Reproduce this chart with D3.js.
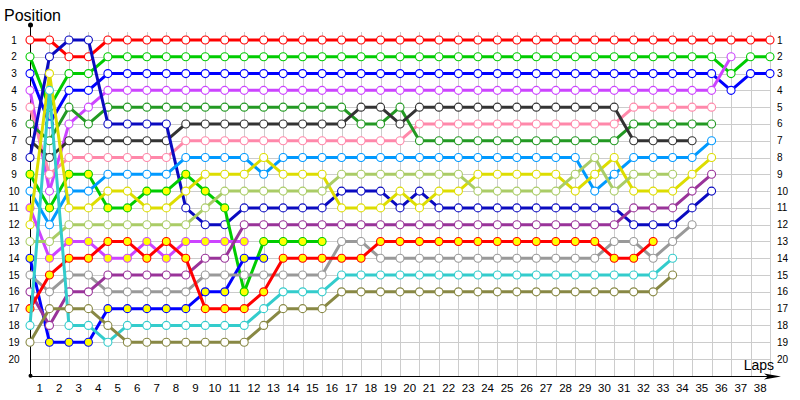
<!DOCTYPE html>
<html><head><meta charset="utf-8">
<script src="https://cdn.jsdelivr.net/npm/d3@7"></script>
<style>body{margin:0;background:#fff}svg{display:block}</style>
</head><body><svg id="c" width="800" height="400"></svg>
<script>
// ---- data (position per lap, index = lap number starting at lap 0 = grid) ----
const lapLabels = d3.range(1, 39);
const posLabels = d3.range(1, 21);

const pRed      = [1,1,2,2,1,1,1,1,1,1,1,1,1,1,1,1,1,1,1,1,1,1,1,1,1,1,1,1,1,1,1,1,1,1,1,1,1,1,1];
const pGreen    = [2,5,3,3,2,2,2,2,2,2,2,2,2,2,2,2,2,2,2,2,2,2,2,2,2,2,2,2,2,2,2,2,2,2,2,2,3,2,2];
const pBlue     = [3,6,4,4,3,3,3,3,3,3,3,3,3,3,3,3,3,3,3,3,3,3,3,3,3,3,3,3,3,3,3,3,3,3,3,3,4,3,3];
const pViolet   = [4,10,6,5,4,4,4,4,4,4,4,4,4,4,4,4,4,4,4,4,4,4,4,4,4,4,4,4,4,4,4,4,4,4,4,4,2];
const pPink     = [5,9,8,8,8,8,8,8,7,7,7,7,7,7,7,7,7,7,7,7,6,6,6,6,6,6,6,6,6,6,6,5,5,5,5,5];
const pDkGreen  = [6,7,5,6,5,5,5,5,5,5,5,5,5,5,5,5,5,6,6,5,7,7,7,7,7,7,7,7,7,7,7,6,6,6,6,6];
const pDkGray   = [7,8,7,7,7,7,7,7,6,6,6,6,6,6,6,6,6,5,5,6,5,5,5,5,5,5,5,5,5,5,5,7,7,7,7];
const pNavy     = [8,2,1,1,6,6,6,6,11,12,12,11,11,11,11,11,10,10,10,11,10,11,11,11,11,11,11,11,11,11,11,12,12,12,11,10];
const pGreenY   = [9,11,9,9,11,11,10,10,9,10,11,16,13,13,13,13];
const pSky      = [10,12,10,10,9,9,9,9,8,8,8,8,9,8,8,8,8,8,8,8,8,8,8,8,8,8,8,8,8,10,9,8,8,8,8,7];
const pVioletY  = [11,14,13,13,14,14,13,14,13,13,13,13];
const pYellow   = [12,3,11,11,10,10,11,11,10,9,9,9,8,9,9,9,11,11,11,10,11,10,10,9,9,9,9,9,10,9,8,10,10,10,9,8];
const pLtGreen  = [13,13,12,12,12,12,12,12,12,11,10,10,10,10,10,10,9,9,9,9,9,9,9,10,10,10,10,10,9,8,10,9,9,9];
const pBlueY    = [14,19,19,19,17,17,17,17,17,16,16,14,14];
const pGray     = [15,16,15,15,16,16,16,16,16,15,15,15,15,15,15,15,13,13,14,14,14,14,14,14,14,14,14,14,14,14,13,13,14,13,12];
const pPurple   = [16,18,16,16,15,15,15,15,15,14,14,12,12,12,12,12,12,12,12,12,12,12,12,12,12,12,12,12,12,12,12,11,11,11,10,9];
const pRedY     = [17,15,14,14,13,13,14,13,14,17,17,17,16,14,14,14,14,14,13,13,13,13,13,13,13,13,13,13,13,13,14,14,13];
const pCyan     = [18,4,18,18,19,18,18,18,18,18,18,18,17,16,16,16,15,15,15,15,15,15,15,15,15,15,15,15,15,15,15,15,15,14];
const pOlive    = [19,17,17,17,18,19,19,19,19,19,19,19,18,17,17,17,16,16,16,16,16,16,16,16,16,16,16,16,16,16,16,16,16,15];

// styles
const series = [
  {d:pRed,     c:'#ff0000', f:'#ffffff'},
  {d:pGreen,   c:'#00cc00', f:'#ffffff'},
  {d:pBlue,    c:'#0000ff', f:'#ffffff'},
  {d:pViolet,  c:'#cc44ff', f:'#ffffff'},
  {d:pPink,    c:'#ff88aa', f:'#ffffff'},
  {d:pDkGreen, c:'#229922', f:'#ffffff'},
  {d:pDkGray,  c:'#333333', f:'#ffffff'},
  {d:pNavy,    c:'#0a0ac0', f:'#ffffff'},
  {d:pGreenY,  c:'#00cc00', f:'#ffff00'},
  {d:pSky,     c:'#0099ff', f:'#ffffff'},
  {d:pVioletY, c:'#cc44ff', f:'#ffff00'},
  {d:pYellow,  c:'#dddd00', f:'#ffffff'},
  {d:pLtGreen, c:'#aacc66', f:'#ffffff'},
  {d:pBlueY,   c:'#0000ff', f:'#ffff00'},
  {d:pGray,    c:'#999999', f:'#ffffff'},
  {d:pPurple,  c:'#993399', f:'#ffffff'},
  {d:pRedY,    c:'#ff0000', f:'#ffff00'},
  {d:pCyan,    c:'#33cccc', f:'#ffffff'},
  {d:pOlive,   c:'#888844', f:'#ffffff'}
];

const svg = d3.select('#c');
const x = d3.scaleLinear().domain([0, 38]).range([30, 770]);
const y = d3.scaleLinear().domain([1, 20]).range([40, 359]);
const font = "'Liberation Sans', Arial, sans-serif";

// grid
const g = svg.append('g').attr('stroke', '#cccccc').attr('stroke-width', 1).attr('shape-rendering','crispEdges');
g.selectAll('line.v').data(d3.range(0, 39)).join('line')
  .attr('x1', d => Math.round(x(d)) + 0.5).attr('x2', d => Math.round(x(d)) + 0.5)
  .attr('y1', y(0.5)).attr('y2', y(21));
g.selectAll('line.h').data(posLabels).join('line')
  .attr('x1', x(0)).attr('x2', x(38))
  .attr('y1', d => Math.round(y(d)) + 0.5).attr('y2', d => Math.round(y(d)) + 0.5);

// axes
svg.append('line').attr('x1', 30.5).attr('x2', 30.5).attr('y1', 25).attr('y2', y(21))
  .attr('stroke', '#000').attr('stroke-width', 1);
svg.append('circle').attr('cx', 30.5).attr('cy', 25).attr('r', 2.5).attr('fill', '#000');
svg.append('circle').attr('cx', 30.5).attr('cy', y(21)).attr('r', 2).attr('fill', '#000');
const ax = Math.round(y(21)) + 0.5;
svg.append('line').attr('x1', 30).attr('x2', 768).attr('y1', ax).attr('y2', ax)
  .attr('stroke', '#000').attr('stroke-width', 1);
svg.append('path').attr('d', `M764,${ax-3} L781,${ax} L764,${ax+3} L768,${ax} Z`).attr('fill', '#000');

// labels
svg.append('g').selectAll('text').data(posLabels).join('text')
  .attr('x', 14).attr('y', d => y(d)).attr('dy', '0.35em')
  .attr('text-anchor', 'middle').attr('font-family', font).attr('font-size', 10)
  .text(d => d);
svg.append('g').selectAll('text').data(posLabels).join('text')
  .attr('x', 777).attr('y', d => y(d)).attr('dy', '0.35em')
  .attr('text-anchor', 'start').attr('font-family', font).attr('font-size', 10)
  .text(d => d);
svg.append('g').selectAll('text').data(lapLabels).join('text')
  .attr('x', d => x(d - 0.5)).attr('y', 392)
  .attr('text-anchor', 'middle').attr('font-family', font).attr('font-size', 11.5)
  .text(d => d);
svg.append('text').attr('x', 4).attr('y', 21).attr('font-family', font).attr('font-size', 16).text('Position');
svg.append('text').attr('x', 774).attr('y', 370).attr('text-anchor', 'end').attr('font-family', font).attr('font-size', 14).text('Laps');

// series
const line = d3.line().x((d, i) => x(i)).y(d => y(d));
series.forEach(s => {
  const sg = svg.append('g');
  sg.append('path').attr('d', line(s.d)).attr('fill', 'none')
    .attr('stroke', s.c).attr('stroke-width', 3).attr('stroke-linejoin', 'round');
  sg.selectAll('circle').data(s.d).join('circle')
    .attr('cx', (d, i) => x(i)).attr('cy', d => y(d)).attr('r', 4)
    .attr('fill', s.f).attr('stroke', s.c).attr('stroke-width', 1.1);
});
</script>
</body></html>
